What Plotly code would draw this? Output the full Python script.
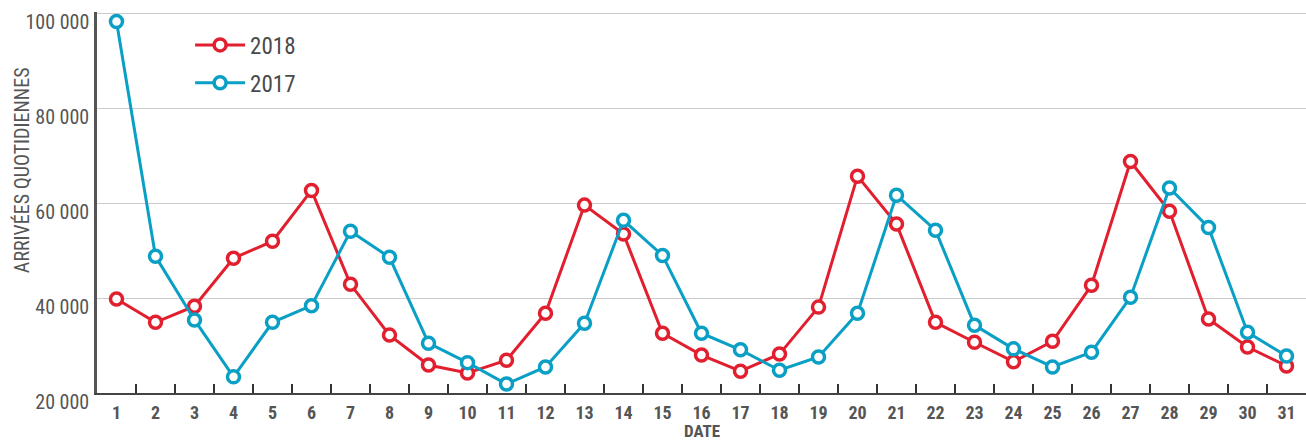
import plotly.graph_objects as go

days = [str(d) for d in range(1, 32)]
y2018 = [39800, 34900, 38300, 48400, 52000, 62700, 42900, 32200, 25900, 24200,
         26900, 36800, 59600, 53500, 32600, 28000, 24600, 28200, 38100, 65700,
         55600, 34900, 30700, 26600, 30900, 42700, 68800, 58300, 35600, 29700, 25700]
y2017 = [98300, 48800, 35400, 23400, 34900, 38400, 54100, 48600, 30500, 26400,
         21900, 25500, 34700, 56400, 49000, 32600, 29100, 24800, 27600, 36800,
         61700, 54300, 34300, 29300, 25500, 28600, 40200, 63200, 54900, 32800, 27800]
y_ticks = [20000, 40000, 60000, 80000, 100000]
y_tick_text = ["20 000", "40 000", "60 000", "80 000", "100 000"]

RED = "#e11f2e"
BLUE = "#0a9fc4"
FONT = "Roboto Condensed, Liberation Sans Narrow, DejaVu Sans Condensed, Roboto, Arial"

fig = go.Figure()
for name, vals, col in [("2018", y2018, RED), ("2017", y2017, BLUE)]:
    fig.add_trace(go.Scatter(
        x=days, y=vals, name=name, legendgroup=name, mode="lines+markers",
        line=dict(color=col, width=3),
        marker=dict(symbol="circle", size=12, color="white",
                    line=dict(color=col, width=3.5)),
    ))

fig.update_layout(
    width=1306, height=442,
    margin=dict(l=97, r=0, t=12, b=49),
    paper_bgcolor="white", plot_bgcolor="white",
    font=dict(family=FONT, color="#555555"),
    showlegend=True,
    legend=dict(x=0.077, y=0.97, xanchor="left", yanchor="top",
                font=dict(size=23, color="#4a4a4a", family=FONT),
                itemwidth=50, tracegroupgap=5, bgcolor="rgba(0,0,0,0)"),
    annotations=[
        dict(text="ARRIVÉES QUOTIDIENNES", xref="paper", yref="paper",
             x=-0.062, y=0.585, xanchor="center", yanchor="middle",
             textangle=-90, showarrow=False,
             font=dict(size=20, color="#555555", family=FONT)),
        dict(text="<b>DATE</b>", xref="paper", yref="paper",
             x=0.5, y=-0.1, xanchor="center", yanchor="middle",
             showarrow=False, borderpad=0,
             font=dict(size=17, color="#555555", family=FONT)),
    ],
)
fig.update_xaxes(
    type="category", range=[-0.5, 30.5],
    tickson="boundaries", ticks="inside", ticklen=9, tickwidth=1.5, tickcolor="#333333",
    showline=True, linecolor="#444444", linewidth=2, showgrid=False, zeroline=False,
    automargin=False, ticklabelstandoff=2,
    tickfont=dict(size=18, color="#555555", family=FONT, weight="bold"),
)
fig.update_yaxes(
    range=[20000, 100300], tickmode="array", tickvals=y_ticks, ticktext=y_tick_text,
    showgrid=True, gridcolor="#cccccc", gridwidth=1, zeroline=False,
    showline=True, linecolor="#555555", linewidth=2.5, ticks="",
    automargin=False, ticklabeloverflow="allow",
    ticklabelstandoff=1, ticklabelshift=9,
    tickfont=dict(size=20, color="#555555"),
)

fig.write_html("out.html", post_script="document.body.style.margin='0';",
               config={"displayModeBar": False})
